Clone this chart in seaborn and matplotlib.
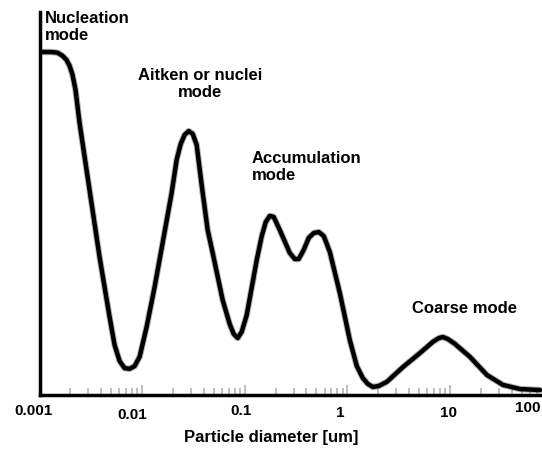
import matplotlib
matplotlib.use("Agg")
import matplotlib.pyplot as plt
import numpy as np
import pandas as pd
import seaborn as sns
from matplotlib.ticker import LogLocator, NullFormatter
from matplotlib.transforms import ScaledTranslation

# Particle number size distribution (relative units) vs particle diameter in um
diameter_um = [
    0.001070, 0.001310, 0.001498, 0.001677, 0.001834, 0.001963, 0.002099,
    0.002245, 0.002456, 0.003074, 0.003849, 0.004818, 0.005391, 0.006032,
    0.006749, 0.007551, 0.008450, 0.009454, 0.01106, 0.01324, 0.01585,
    0.01940, 0.02171, 0.02375, 0.02598, 0.02843, 0.03110, 0.03401,
    0.03805, 0.04355, 0.04872, 0.06099, 0.07139, 0.07809, 0.08544,
    0.09348, 0.1046, 0.1310, 0.1465, 0.1603, 0.1753, 0.1918,
    0.2195, 0.2748, 0.3074, 0.3363, 0.3763, 0.4211, 0.4712,
    0.5272, 0.5898, 0.6752, 0.8450, 1.058, 1.238, 1.416,
    1.585, 1.774, 2.029, 2.429, 3.479, 5.097, 6.826,
    7.810, 8.546, 9.561, 11.19, 15.67, 22.96, 32.89,
    48.19, 75.51,
]
concentration = [
    100.1, 100.1, 99.9, 99.0, 97.8, 96.1, 93.4,
    89.0, 79.4, 59.8, 40.2, 22.7, 14.5, 9.8,
    7.7, 7.5, 8.3, 11.0, 19.7, 31.4, 44.3,
    58.9, 68.6, 73.2, 75.9, 77.0, 76.2, 73.0,
    61.3, 48.1, 41.4, 27.6, 20.6, 17.7, 16.5,
    18.3, 23.2, 39.3, 46.3, 50.4, 52.2, 51.9,
    48.1, 41.4, 39.6, 39.6, 42.3, 45.8, 47.2,
    47.5, 46.3, 41.7, 29.7, 15.9, 8.3, 4.8,
    3.1, 2.2, 2.5, 3.7, 8.0, 12.1, 15.4,
    16.5, 16.8, 16.2, 14.8, 11.0, 5.7, 2.8,
    1.6, 1.3,
]

tick_values = [0.001, 0.01, 0.1, 1, 10, 100]
tick_labels = ["0.001", "0.01", "0.1", "1", "10", "100"]
x_title = "Particle diameter [um]"
mode_names = ["Nucleation\nmode", "Aitken or nuclei\nmode",
              "Accumulation\nmode", "Coarse mode"]

sns.set_style("white")
plt.rcParams["font.family"] = ["Liberation Sans", "DejaVu Sans"]
plt.rcParams["font.weight"] = "bold"
plt.rcParams["text.color"] = "black"
plt.rcParams["axes.labelcolor"] = "black"

W, H = 542, 449
fig = plt.figure(figsize=(W / 100, H / 100), dpi=100)
fig.patch.set_facecolor("white")
ax = fig.add_axes([39.5 / W, 54.5 / H, 513 / W, 382.5 / H])

df = pd.DataFrame({"diameter": diameter_um, "dN": concentration})

# slightly soft edge under the main curve
sns.lineplot(data=df, x="diameter", y="dN", ax=ax, color="black",
             linewidth=4.6, alpha=0.3, estimator=None, sort=False,
             solid_capstyle="round", solid_joinstyle="round")
sns.lineplot(data=df, x="diameter", y="dN", ax=ax, color="black",
             linewidth=3.2, estimator=None, sort=False,
             solid_capstyle="round", solid_joinstyle="round")

ax.set_xscale("log")
ax.set_xlim(0.001, 100)
ax.set_ylim(0, 111.8)

for side in ("top", "right"):
    ax.spines[side].set_visible(False)
for side in ("left", "bottom"):
    ax.spines[side].set_linewidth(2.5)
    ax.spines[side].set_color("black")

ax.set_yticks([])
ax.set_ylabel("")
ax.set_xticks(tick_values, tick_labels)
ax.xaxis.set_minor_locator(LogLocator(base=10, subs=np.arange(2, 10)))
ax.xaxis.set_minor_formatter(NullFormatter())
ax.tick_params(axis="x", which="major", bottom=True, direction="in",
               length=7, width=1.2, color="#b4b4b4", pad=6.5,
               labelsize=11, labelcolor="black")
ax.tick_params(axis="x", which="minor", bottom=True, direction="in",
               length=5, width=1.2, color="#b4b4b4")
for lab in ax.get_xticklabels():
    lab.set_fontweight("bold")

ax.set_xlabel(x_title, fontsize=12, fontweight="bold", va="top")
ax.xaxis.set_label_coords((271 - 39.5) / 513, (394.5 - 430) / 382.5)

# mode annotations
def fig_xy(px, py):
    return px / W, 1 - py / H

text_specs = [
    (mode_names[0], 45, 11, "left"),
    (mode_names[1], 200, 68, "center"),
    (mode_names[2], 252, 151, "left"),
    (mode_names[3], 464, 301, "center"),
]
for txt, px, py, ha in text_specs:
    x, y = fig_xy(px, py)
    fig.text(x, y, txt, ha=ha, va="top", multialignment=ha,
             fontsize=12, fontweight="bold", linespacing=1.15)

# hand-placed offsets of the tick labels
label_dx = [-6, -9.5, -4, -7.5, -1, -24.5]
label_dy = [0, -4, 0, -2, -2, 3]
for lab, dx, dy in zip(ax.get_xticklabels(), label_dx, label_dy):
    lab.set_transform(lab.get_transform()
                      + ScaledTranslation(dx / 100, dy / 100, fig.dpi_scale_trans))

fig.savefig("out.png", dpi=100, facecolor="white")
